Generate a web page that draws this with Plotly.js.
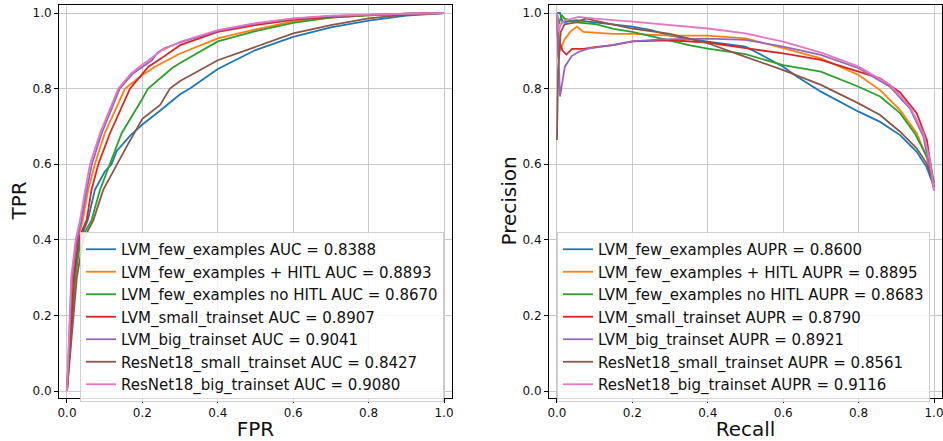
<!DOCTYPE html>
<html>
<head>
<meta charset="utf-8">
<script src="https://cdn.plot.ly/plotly-3.0.1.min.js"></script>
<style>html,body{margin:0;padding:0;background:#fff;}#chart{width:943px;height:441px;}</style>
</head>
<body>
<div id="chart"></div>
<script>
// ---- series names ----
const modelNames = ["LVM_few_examples", "LVM_few_examples + HITL", "LVM_few_examples no HITL",
  "LVM_small_trainset", "LVM_big_trainset", "ResNet18_small_trainset", "ResNet18_big_trainset"];
const aucValues = ["0.8388", "0.8893", "0.8670", "0.8907", "0.9041", "0.8427", "0.9080"];
const auprValues = ["0.8600", "0.8895", "0.8683", "0.8790", "0.8921", "0.8561", "0.9116"];
const seriesColors = ["#1f77b4", "#ff7f0e", "#2ca02c", "#d62728", "#9467bd", "#8c564b", "#e377c2"];
const tickVals = [0, 0.2, 0.4, 0.6, 0.8, 1.0];
const tickText = ["0.0", "0.2", "0.4", "0.6", "0.8", "1.0"];
const axisTitles = {rocX: "FPR", rocY: "TPR", prX: "Recall", prY: "Precision"};

// ---- ROC curves (FPR, TPR) ----
const rocFewFpr = [0,0.012,0.02,0.034,0.055,0.074,0.1,0.118,0.132,0.167,0.2,0.245,0.3,0.326,0.4,0.5,0.6,0.7,0.8,0.9,1];
const rocFewTpr = [0,0.2,0.3,0.4,0.452,0.532,0.58,0.6,0.635,0.675,0.705,0.74,0.785,0.8,0.852,0.902,0.937,0.962,0.98,0.993,1];
const rocHitlFpr = [0,0.01,0.016,0.028,0.042,0.056,0.074,0.1,0.141,0.154,0.2,0.233,0.3,0.4,0.5,0.6,0.7,0.8,0.9,1];
const rocHitlTpr = [0,0.2,0.3,0.4,0.452,0.532,0.6,0.682,0.77,0.8,0.836,0.858,0.893,0.933,0.957,0.978,0.988,0.994,0.998,1];
const rocNoHitlFpr = [0,0.014,0.022,0.036,0.065,0.0875,0.114,0.145,0.198,0.215,0.28,0.3,0.4,0.5,0.6,0.7,0.8,0.9,1];
const rocNoHitlTpr = [0,0.2,0.3,0.4,0.452,0.532,0.6,0.682,0.77,0.8,0.855,0.868,0.925,0.952,0.974,0.988,0.994,0.998,1];
const rocSmallFpr = [0,0.012,0.018,0.03,0.052,0.065,0.083,0.114,0.154,0.167,0.216,0.25,0.3,0.4,0.5,0.6,0.7,0.8,0.9,1];
const rocSmallTpr = [0,0.2,0.3,0.4,0.452,0.532,0.6,0.682,0.77,0.8,0.858,0.88,0.915,0.95,0.968,0.982,0.99,0.995,0.998,1];
const rocBigFpr = [0,0.008,0.013,0.026,0.038,0.052,0.066,0.092,0.127,0.14,0.175,0.205,0.225,0.24,0.26,0.3,0.4,0.5,0.6,0.7,0.8,0.9,1];
const rocBigTpr = [0,0.2,0.3,0.4,0.45,0.53,0.6,0.682,0.77,0.8,0.84,0.86,0.875,0.895,0.907,0.922,0.953,0.972,0.985,0.992,0.996,0.998,1];
const rocResSmallFpr = [0,0.017,0.026,0.043,0.07,0.096,0.132,0.16,0.2,0.247,0.273,0.3,0.4,0.5,0.6,0.7,0.8,0.9,1];
const rocResSmallTpr = [0,0.2,0.3,0.4,0.452,0.532,0.6,0.65,0.72,0.757,0.8,0.82,0.875,0.911,0.946,0.968,0.986,0.996,1];
const rocResBigFpr = [0,0.006,0.011,0.023,0.034,0.048,0.061,0.0875,0.123,0.136,0.17,0.198,0.25,0.3,0.4,0.5,0.6,0.7,0.8,0.9,1];
const rocResBigTpr = [0,0.2,0.3,0.4,0.45,0.53,0.6,0.682,0.77,0.8,0.84,0.862,0.9,0.924,0.955,0.973,0.986,0.993,0.996,0.998,1];

// ---- Precision-Recall curves (Recall, Precision) ----
const prFewRec = [0,0.008,0.015,0.05,0.1,0.15,0.2,0.25,0.3,0.4,0.5,0.55,0.6,0.636,0.7,0.8,0.857,0.91,0.954,0.98,1.0];
const prFewPrec = [1.0,1.0,0.975,0.981,0.975,0.97,0.964,0.955,0.94,0.924,0.911,0.885,0.858,0.832,0.792,0.739,0.712,0.677,0.633,0.593,0.54];
const prHitlRec = [0,0.004,0.008,0.02,0.035,0.053,0.07,0.1,0.15,0.2,0.3,0.4,0.5,0.6,0.7,0.8,0.857,0.91,0.954,0.98,1.0];
const prHitlPrec = [1.0,0.96,0.9,0.93,0.95,0.964,0.95,0.948,0.945,0.945,0.94,0.94,0.933,0.907,0.88,0.836,0.796,0.743,0.682,0.62,0.55];
const prNoHitlRec = [0,0.005,0.012,0.02,0.05,0.1,0.15,0.2,0.3,0.35,0.4,0.5,0.6,0.7,0.8,0.857,0.91,0.95,0.99,1.0];
const prNoHitlPrec = [1.0,0.97,0.995,0.985,0.975,0.971,0.958,0.95,0.927,0.915,0.906,0.891,0.862,0.845,0.805,0.779,0.735,0.68,0.603,0.55];
const prSmallRec = [0,0.004,0.008,0.015,0.025,0.04,0.07,0.1,0.15,0.2,0.3,0.4,0.5,0.6,0.7,0.8,0.857,0.91,0.954,0.981,1.0];
const prSmallPrec = [1.0,0.88,0.92,0.9,0.89,0.905,0.905,0.91,0.915,0.925,0.928,0.922,0.907,0.893,0.876,0.845,0.827,0.79,0.735,0.664,0.54];
const prBigRec = [0,0.004,0.008,0.021,0.039,0.057,0.083,0.145,0.2,0.278,0.4,0.5,0.6,0.7,0.8,0.883,0.936,0.972,1.0];
const prBigPrec = [1.0,0.9,0.779,0.858,0.886,0.897,0.906,0.915,0.925,0.93,0.932,0.929,0.911,0.889,0.854,0.805,0.748,0.673,0.53];
const prResSmallRec = [0,0.003,0.01,0.02,0.05,0.078,0.1,0.15,0.2,0.3,0.4,0.5,0.6,0.7,0.8,0.857,0.91,0.954,0.98,1.0];
const prResSmallPrec = [0.664,0.85,0.95,0.97,0.975,0.986,0.98,0.97,0.959,0.945,0.92,0.884,0.849,0.81,0.761,0.73,0.686,0.642,0.603,0.55];
const prResBigRec = [0,0.004,0.01,0.02,0.057,0.1,0.2,0.3,0.4,0.5,0.6,0.707,0.8,0.883,0.936,0.972,0.989,1.0];
const prResBigPrec = [1.0,0.95,0.97,0.98,0.99,0.985,0.977,0.968,0.959,0.946,0.924,0.893,0.858,0.81,0.752,0.682,0.611,0.532];

const rocX = [rocFewFpr, rocHitlFpr, rocNoHitlFpr, rocSmallFpr, rocBigFpr, rocResSmallFpr, rocResBigFpr];
const rocY = [rocFewTpr, rocHitlTpr, rocNoHitlTpr, rocSmallTpr, rocBigTpr, rocResSmallTpr, rocResBigTpr];
const prX = [prFewRec, prHitlRec, prNoHitlRec, prSmallRec, prBigRec, prResSmallRec, prResBigRec];
const prY = [prFewPrec, prHitlPrec, prNoHitlPrec, prSmallPrec, prBigPrec, prResSmallPrec, prResBigPrec];

const traces = [];
for (let i = 0; i < modelNames.length; i++) {
  traces.push({
    x: rocX[i], y: rocY[i], type: "scatter", mode: "lines",
    name: modelNames[i] + " AUC = " + aucValues[i],
    line: {color: seriesColors[i], width: 1.8},
    xaxis: "x", yaxis: "y", legend: "legend"
  });
}
for (let i = 0; i < modelNames.length; i++) {
  traces.push({
    x: prX[i], y: prY[i], type: "scatter", mode: "lines",
    name: modelNames[i] + " AUPR = " + auprValues[i],
    line: {color: seriesColors[i], width: 1.8},
    xaxis: "x2", yaxis: "y2", legend: "legend2"
  });
}

const FONT = "DejaVu Sans, sans-serif";
const titleFont = {family: FONT, size: 20, color: "#111"};
function axisBase(extra) {
  return Object.assign({
    range: [-0.0212, 1.0212],
    tickvals: tickVals, ticktext: tickText,
    ticks: "outside", ticklen: 4, tickwidth: 1, tickcolor: "#000",
    showline: true, linecolor: "#000", linewidth: 1, mirror: true,
    showgrid: true, gridcolor: "#c8c8c8", gridwidth: 1,
    zeroline: false, ticklabeloverflow: "allow",
    tickfont: {family: FONT, size: 12, color: "#111"},
    automargin: false
  }, extra);
}
const legendBase = {
  bgcolor: "rgba(255,255,255,0.85)", bordercolor: "#d0d0d0", borderwidth: 1,
  font: {family: FONT, size: 15, color: "#111"},
  xanchor: "left", yanchor: "top", tracegroupgap: 0
};

const layout = {
  width: 943, height: 441,
  margin: {l: 59, r: 1, t: 5, b: 43},
  paper_bgcolor: "#fff", plot_bgcolor: "#fff",
  showlegend: true,
  xaxis: axisBase({domain: [0, 0.4451], anchor: "y", title: {text: axisTitles.rocX, font: titleFont}}),
  yaxis: axisBase({domain: [0, 1], anchor: "x", range: [-0.0185, 1.0212]}),
  xaxis2: axisBase({domain: [0.5549, 1], anchor: "y2", title: {text: axisTitles.prX, font: titleFont}}),
  yaxis2: axisBase({domain: [0, 1], anchor: "x2", range: [-0.0185, 1.0212]}),
  legend: Object.assign({}, legendBase, {x: 0.0238, y: 0.4224}),
  legend2: Object.assign({}, legendBase, {x: 0.564, y: 0.4224}),
  annotations: [
    {text: axisTitles.rocY, xref: "paper", yref: "paper", x: -0.0464, y: 0.5,
     xanchor: "center", yanchor: "middle", textangle: -90, showarrow: false, font: titleFont},
    {text: axisTitles.prY, xref: "paper", yref: "paper", x: 0.5085, y: 0.5,
     xanchor: "center", yanchor: "middle", textangle: -90, showarrow: false, font: titleFont}
  ]
};

Plotly.newPlot("chart", traces, layout, {staticPlot: true, displayModeBar: false});
</script>
</body>
</html>
